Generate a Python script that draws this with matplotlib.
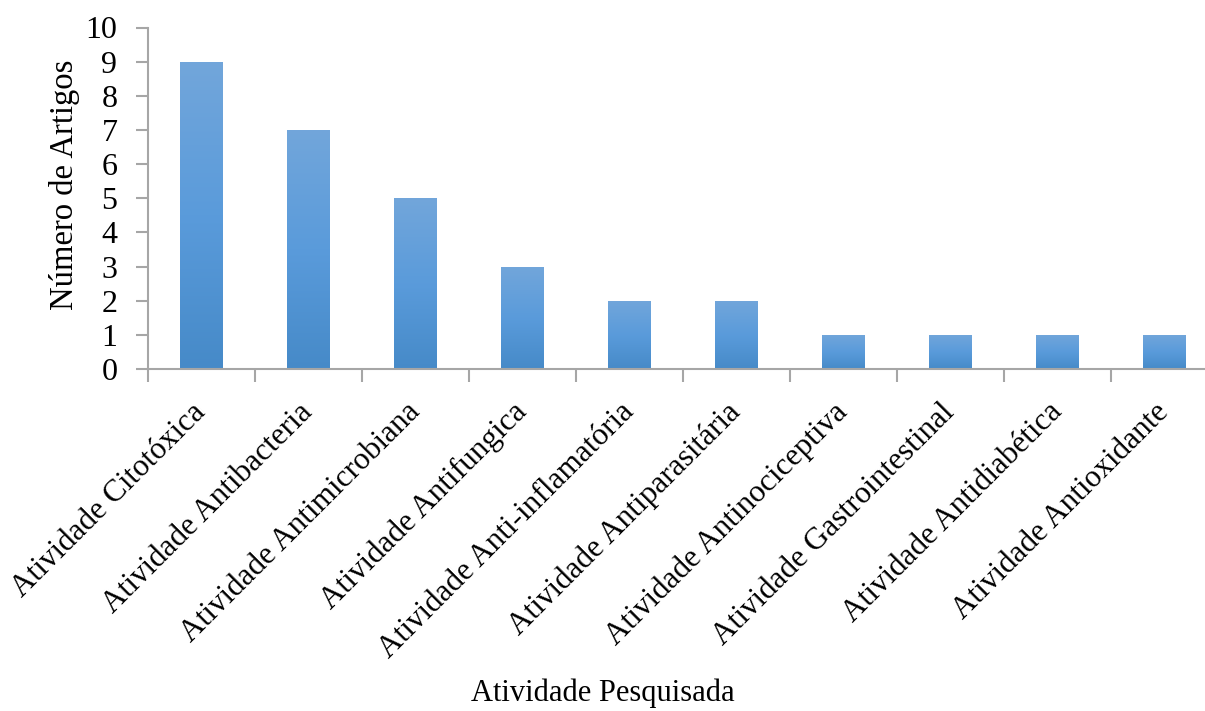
import matplotlib.pyplot as plt
import numpy as np
from matplotlib.colors import LinearSegmentedColormap


activities = [
    "Atividade Citotóxica",
    "Atividade Antibacteria",
    "Atividade Antimicrobiana",
    "Atividade Antifungica",
    "Atividade Anti-inflamatória",
    "Atividade Antiparasitária",
    "Atividade Antinociceptiva",
    "Atividade Gastrointestinal",
    "Atividade Antidiabética",
    "Atividade Antioxidante",
]
article_counts = [9, 7, 5, 3, 2, 2, 1, 1, 1, 1]
y_ticks = list(range(0, 11))

AXIS_GRAY = "#a6a6a6"
bar_cmap = LinearSegmentedColormap.from_list(
    "excel_blue", ["#468ac8", "#5a9bdb", "#72a6da"]
)

plt.rcParams["font.family"] = ["Liberation Serif", "DejaVu Serif"]

fig = plt.figure(figsize=(12.05, 7.11), dpi=100)
fig.patch.set_facecolor("white")
axes = fig.add_axes([148 / 1205, 1 - 369 / 711, 1070 / 1205, 341.5 / 711])

positions = np.arange(len(activities))
bars = axes.bar(positions, article_counts, width=0.4, color="none", edgecolor="none")

# vertical gradient inside every bar, like the Excel fill
gradient = np.linspace(0, 1, 256).reshape(-1, 1)
for bar in bars:
    x0 = bar.get_x()
    x1 = x0 + bar.get_width()
    height = bar.get_height()
    image = axes.imshow(
        gradient,
        extent=[x0, x1, 0, height],
        origin="lower",
        aspect="auto",
        cmap=bar_cmap,
        zorder=2,
    )
    image.set_clip_path(bar)

axes.set_xlim(-0.5, len(activities) - 0.5)
axes.set_ylim(0, 10)
axes.set_yticks(y_ticks)
axes.set_yticklabels([str(t) for t in y_ticks], fontsize=23)

# category labels at centers, tick marks at category borders
axes.set_xticks(positions)
axes.set_xticklabels(
    activities, rotation=45, ha="right", va="center", rotation_mode="anchor", fontsize=22.5
)
axes.set_xticks(np.arange(-0.5, len(activities), 1.0), minor=True)
axes.tick_params(axis="x", which="major", length=0, pad=28)
axes.tick_params(axis="x", which="minor", length=9, width=1.5, color=AXIS_GRAY, direction="out")
axes.tick_params(axis="y", length=9, width=1.5, color=AXIS_GRAY, direction="out", pad=13)

for side in ["top", "right"]:
    axes.spines[side].set_visible(False)
for side in ["left", "bottom"]:
    axes.spines[side].set_color(AXIS_GRAY)
    axes.spines[side].set_linewidth(1.5)

axes.set_ylabel("Número de Artigos", fontsize=23.5, va="center")
axes.yaxis.set_label_coords(-0.0785, 0.54)
fig.text(0.5, 1 - 693 / 711, "Atividade Pesquisada", fontsize=22, ha="center", va="center")

fig.savefig("out.png", dpi=100, facecolor="white")
